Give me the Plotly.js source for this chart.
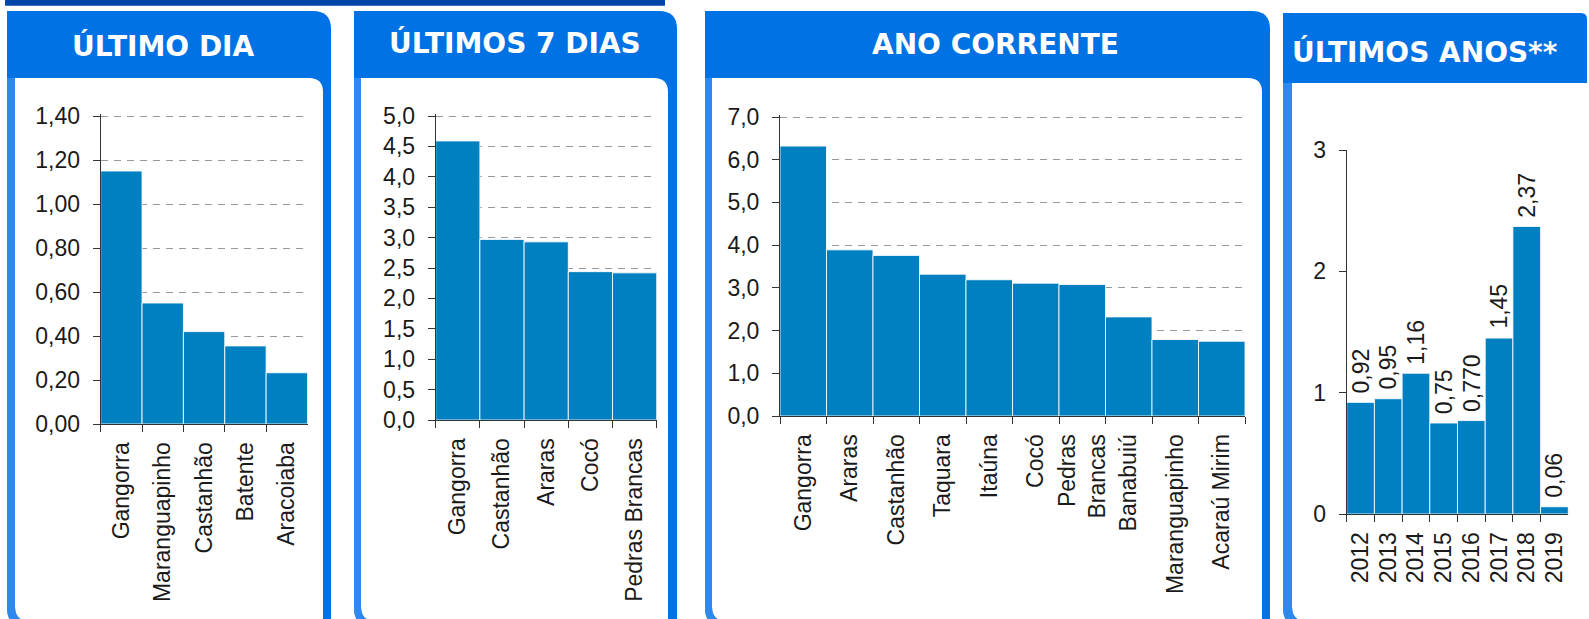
<!DOCTYPE html>
<html><head><meta charset="utf-8">
<script src="https://cdn.plot.ly/plotly-3.0.1.min.js"></script>
<style>html,body{margin:0;padding:0;background:#fff;overflow:hidden}#chart{width:1589px;height:619px}</style>
</head><body><div id="chart"></div><script>
// ---- data ----
const diaCats = ['Gangorra','Maranguapinho','Castanhão','Batente','Aracoiaba'];
const diaVals = [1.15, 0.55, 0.42, 0.355, 0.233];
const semanaCats = ['Gangorra','Castanhão','Araras','Cocó','Pedras Brancas'];
const semanaVals = [4.59, 2.97, 2.93, 2.44, 2.42];
const anoCats = ['Gangorra','Araras','Castanhão','Taquara','Itaúna','Cocó','Pedras<br>Brancas','Banabuiú','Maranguapinho','Acaraú Mirim'];
const anoVals = [6.32, 3.89, 3.76, 3.32, 3.19, 3.11, 3.08, 2.32, 1.79, 1.75];
const anosCats = ['2012','2013','2014','2015','2016','2017','2018','2019'];
const anosVals = [0.92, 0.95, 1.16, 0.75, 0.77, 1.45, 2.37, 0.06];
const anosLabels = ['0,92','0,95','1,16','0,75','0,770','1,45','2,37','0,06'];
const panelTitles = ['ÚLTIMO DIA','ÚLTIMOS 7 DIAS','ANO CORRENTE','ÚLTIMOS ANOS**'];

// ---- layout helpers ----
const W = 1589, H = 619;
const fx = x => x / W, fy = y => 1 - y / H;
const P = (x, y) => fx(x).toFixed(5) + ',' + fy(y).toFixed(5);

const BAR = '#0080C0', HEAD = '#0172E4', LEFT = '#2E89EE', DARK = '#0046A9';
const tickFont = {family: '"Liberation Sans", Arial, sans-serif', size: 23, color: '#1a1a1a'};

const frames = [
  {x0:7,    x1:331,  hy0:11, hy1:78, ix0:15,   ix1:323,  r:18, ri:14, tx:163,    ty:46, xa:'center'},
  {x0:354,  x1:677,  hy0:11, hy1:78, ix0:361,  ix1:668,  r:18, ri:14, tx:514.7,  ty:43, xa:'center'},
  {x0:705,  x1:1270, hy0:11, hy1:78, ix0:712,  ix1:1262, r:18, ri:14, tx:995,    ty:44.5, xa:'center'},
  {x0:1283, x1:1587, hy0:13, hy1:83, ix0:1292, ix1:1600, r:6,  ri:0,  tx:1289.5, ty:52, xa:'left'}
];

const shapes = [{type:'rect', xref:'paper', yref:'paper', x0:fx(5), x1:fx(665), y0:fy(5.7), y1:fy(0),
  fillcolor:DARK, line:{width:0}, layer:'below'}];
const annotations = [];
frames.forEach((f, i) => {
  const outer = `M${P(f.x0,f.hy0)} L${P(f.x1-f.r,f.hy0)} Q${P(f.x1,f.hy0)} ${P(f.x1,f.hy0+f.r)} L${P(f.x1,629)} L${P(f.x0+22,629)} Q${P(f.x0,629)} ${P(f.x0,607)} Z`;
  const inner = `M${P(f.ix0,f.hy1)} L${P(f.ix1-f.ri,f.hy1)} Q${P(f.ix1,f.hy1)} ${P(f.ix1,f.hy1+f.ri)} L${P(f.ix1,621)} L${P(f.ix0+14,621)} Q${P(f.ix0,621)} ${P(f.ix0,607)} Z`;
  const strip = `M${P(f.x0,f.hy1)} L${P(f.ix0,f.hy1)} L${P(f.ix0,607)} Q${P(f.ix0,621)} ${P(f.ix0+14,621)} L${P(f.x0+22,629)} Q${P(f.x0,629)} ${P(f.x0,607)} Z`;
  shapes.push({type:'path', xref:'paper', yref:'paper', path:outer, fillcolor:HEAD, line:{width:0}, layer:'below'});
  shapes.push({type:'path', xref:'paper', yref:'paper', path:inner, fillcolor:'#ffffff', line:{width:0}, layer:'below'});
  shapes.push({type:'path', xref:'paper', yref:'paper', path:strip, fillcolor:LEFT, line:{width:0}, layer:'below'});
  annotations.push({xref:'paper', yref:'paper', x:fx(f.tx), y:fy(f.ty), xanchor:f.xa, yanchor:'middle',
    showarrow:false, text:panelTitles[i],
    font:{family:'"DejaVu Sans", sans-serif', size:28, weight:700, color:'#ffffff'}});
});

// value labels of last panel (category index positions)
anosCats.forEach((c, i) => {
  annotations.push({xref:'x4', yref:'y4', x:i, y:anosVals[i], xanchor:'center', yanchor:'bottom',
    yshift:7, textangle:-90, showarrow:false, text:anosLabels[i], font:tickFont});
});

function xAx(d0, d1, anchor, n) {
  return {domain:[fx(d0), fx(d1)], anchor:anchor, type:'category', range:[-0.5, n - 0.5], autorange:false,
    tickmode:'linear', tick0:0, dtick:1,
    showline:true, linecolor:'#333', linewidth:1,
    ticks:'outside', ticklen:7, tickcolor:'#333', tickwidth:1, tickson:'boundaries', tickangle:-90,
    showgrid:false, tickfont:tickFont, ticklabelstandoff:8, fixedrange:true};
}
// top: pixel of the top tick value; the axis extends 2px above it so the top gridline is drawn
function yAx(top, bottom, anchor, maxv, dt, fmt, grid) {
  const ext = grid ? 2 : 0;
  const rmax = maxv * (bottom - (top - ext)) / (bottom - top);
  return {domain:[fy(bottom), fy(top - ext)], anchor:anchor, range:[0, rmax], autorange:false,
    tickmode:'linear', dtick:dt, tick0:0, tickformat:fmt,
    showline:true, linecolor:'#333', linewidth:1, ticks:'outside', ticklen:7, tickcolor:'#333', tickwidth:1,
    showgrid:grid, gridcolor:'#9a9a9a', gridwidth:1, griddash:'7px,6px', zeroline:false,
    tickfont:tickFont, ticklabelstandoff:8, fixedrange:true};
}

const barBase = {type:'bar', marker:{color:BAR, line:{color:'rgba(255,255,255,0.85)', width:1}}, hoverinfo:'skip'};
const data = [
  Object.assign({}, barBase, {x:diaCats, y:diaVals, xaxis:'x', yaxis:'y'}),
  Object.assign({}, barBase, {x:semanaCats, y:semanaVals, xaxis:'x2', yaxis:'y2'}),
  Object.assign({}, barBase, {x:anoCats, y:anoVals, xaxis:'x3', yaxis:'y3'}),
  Object.assign({}, barBase, {x:anosCats, y:anosVals, xaxis:'x4', yaxis:'y4', cliponaxis:false})
];

const layout = {
  width:W, height:H, margin:{l:0, r:0, t:0, b:0}, showlegend:false,
  paper_bgcolor:'#ffffff', plot_bgcolor:'rgba(0,0,0,0)', bargap:0, separators:',.',
  xaxis: xAx(100.7, 307.5, 'y', diaCats.length),
  yaxis: yAx(116, 424, 'x', 1.4, 0.2, '.2f', true),
  xaxis2: xAx(435.7, 656.7, 'y2', semanaCats.length),
  yaxis2: yAx(116, 420, 'x2', 5, 0.5, '.1f', true),
  xaxis3: xAx(780, 1245, 'y3', anoCats.length),
  yaxis3: yAx(117, 416, 'x3', 7, 1, '.1f', true),
  xaxis4: xAx(1346.7, 1568.3, 'y4', anosCats.length),
  yaxis4: yAx(150, 514, 'x4', 3, 1, 'd', false),
  shapes: shapes, annotations: annotations
};
Plotly.newPlot('chart', data, layout, {displayModeBar:false, staticPlot:true});
</script></body></html>
